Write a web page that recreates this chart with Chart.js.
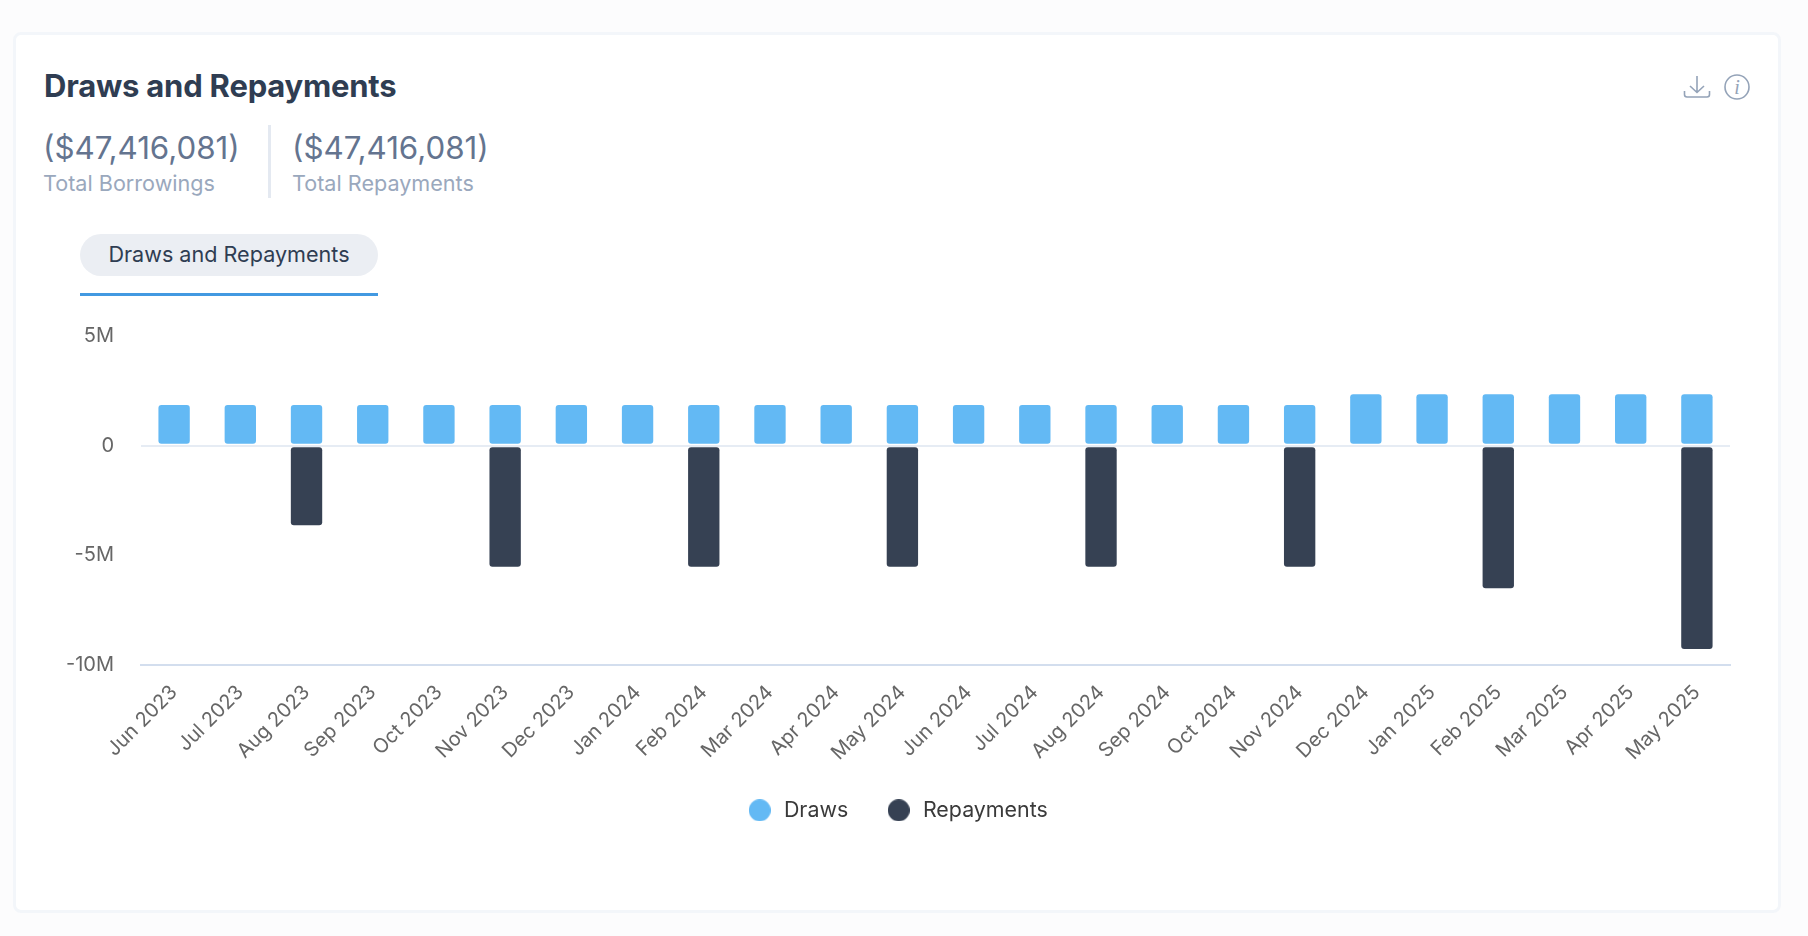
<!DOCTYPE html>
<html>
<head>
<meta charset="utf-8">
<script src="https://cdn.jsdelivr.net/npm/chart.js@4"></script>
<style>
  html, body { margin: 0; padding: 0; width: 1808px; height: 936px; overflow: hidden; background: #fcfcfd; font-family: Inter, sans-serif; }
  .card { position: absolute; left: 13px; top: 32px; width: 1762px; height: 875px; background: #fff; border: 3px solid #f3f6fa; border-radius: 8px; }
  .abs { position: absolute; white-space: nowrap; }
  #title { left: 44px; top: 66px; font-size: 31px; line-height: 39px; font-weight: 700; letter-spacing: -0.22px; color: #2f3d52; }
  .num { top: 129px; font-size: 31.3px; line-height: 38px; color: #64748f; }
  .sub { top: 169px; font-size: 21.6px; line-height: 28px; color: #9aa8bd; }
  #divider { left: 268px; top: 125px; width: 3px; height: 73px; background: #e4e9f1; }
  #pill { left: 80px; top: 234px; width: 298px; height: 42px; border-radius: 21px; background: #ebeef3; color: #2f3d52; font-size: 21.6px; line-height: 41px; text-align: center; }
  #tabline { left: 80px; top: 293px; width: 298px; height: 3px; background: #4299e1; }
  #info-i { left: 1726px; top: 74px; width: 22px; text-align: center; font: italic 20px/26px "Liberation Serif", serif; color: #94a3b8; }
  #chart-box { position: absolute; left: 60px; top: 297px; width: 1676px; height: 534px; }
</style>
</head>
<body>
<div class="card"></div>
<div class="abs" id="title">Draws and Repayments</div>
<div class="abs num" style="left:43px">($47,416,081)</div>
<div class="abs sub" style="left:43px">Total Borrowings</div>
<div class="abs" id="divider"></div>
<div class="abs num" style="left:292px">($47,416,081)</div>
<div class="abs sub" style="left:292px">Total Repayments</div>
<div class="abs" id="pill">Draws and Repayments</div>
<div class="abs" id="tabline"></div>
<svg class="abs" style="left:1680px;top:72px" width="34" height="28" viewBox="0 0 34 28" fill="none" stroke="#94a3b8" stroke-width="1.6">
  <path d="M17 4 V20 M10 14 L17 20.5 L24 14"/>
  <path d="M4.5 19 V22.5 Q4.5 25 7 25 H27 Q29.5 25 29.5 22.5 V19"/>
</svg>
<svg class="abs" style="left:1723px;top:73px" width="28" height="28" viewBox="0 0 28 28" fill="none" stroke="#94a3b8" stroke-width="1.6">
  <circle cx="14" cy="14" r="12"/>
</svg>
<div class="abs" id="info-i">i</div>
<div id="chart-box"><canvas id="mainChart"></canvas></div>

<script>
// chart data
const months = ['Jun 2023', 'Jul 2023', 'Aug 2023', 'Sep 2023', 'Oct 2023', 'Nov 2023', 'Dec 2023', 'Jan 2024',
    'Feb 2024', 'Mar 2024', 'Apr 2024', 'May 2024', 'Jun 2024', 'Jul 2024', 'Aug 2024', 'Sep 2024', 'Oct 2024',
    'Nov 2024', 'Dec 2024', 'Jan 2025', 'Feb 2025', 'Mar 2025', 'Apr 2025', 'May 2025'];
const draws = [1880000, 1880000, 1880000, 1880000, 1880000, 1880000, 1880000, 1880000, 1880000, 1880000, 1880000, 1880000,
    1880000, 1880000, 1880000, 1880000, 1880000, 1880000, 2370000, 2370000, 2370000, 2370000, 2370000, 2370000];
const repayments = [null, null, -3670000, null, null, -5560000, null, null, -5560000, null, null, -5560000,
    null, null, -5560000, null, null, -5560000, null, null, -6540000, null, null, -9320000];
const yTickLabels = { '5000000': '5M', '0': '0', '-5000000': '-5M', '-10000000': '-10M' };

const barStyle = {
    barThickness: 32.7,
    borderWidth: 1,
    borderColor: 'rgba(255,255,255,0)',
    borderRadius: 4,
    borderSkipped: false
};

// legend dots as small canvases, so the box can be wider than the circle
function makeDot(color) {
    const c = document.createElement('canvas');
    c.width = 22;
    c.height = 22;
    const g = c.getContext('2d');
    g.fillStyle = color;
    g.beginPath();
    g.arc(11, 11, 11, 0, Math.PI * 2);
    g.fill();
    return c;
}

new Chart(document.getElementById('mainChart').getContext('2d'), {
    type: 'bar',
    data: {
        labels: months,
        datasets: [
            { label: 'Draws', data: draws, backgroundColor: '#63b9f4', pointStyle: makeDot('#63b9f4'), ...barStyle },
            { label: 'Repayments', data: repayments, backgroundColor: '#364153', pointStyle: makeDot('#364153'), ...barStyle }
        ]
    },
    options: {
        responsive: true,
        maintainAspectRatio: false,
        animation: false,
        layout: { padding: { left: 4, right: 6 } },
        plugins: {
            tooltip: { enabled: false },
            legend: {
                position: 'bottom',
                labels: {
                    usePointStyle: true,
                    pointStyleWidth: 27,
                    boxHeight: 16,
                    padding: 37,
                    color: '#3a3a3a',
                    font: { family: 'Inter', size: 21.4 }
                }
            }
        },
        scales: {
            x: {
                stacked: true,
                grid: { display: false },
                border: { color: '#d3deee', width: 2 },
                ticks: {
                    color: '#666',
                    font: { family: 'Inter', size: 20 },
                    minRotation: 45,
                    maxRotation: 45,
                    autoSkip: false,
                    padding: 8
                },
                afterFit: scale => { scale.height = 98; }
            },
            y: {
                stacked: true,
                min: -10000000,
                max: 5000000,
                grid: {
                    drawTicks: false,
                    lineWidth: 2,
                    color: ctx => ctx.tick.value === 0 ? '#e6ecf4' : 'rgba(0,0,0,0)'
                },
                border: { display: false },
                ticks: {
                    stepSize: 5000000,
                    color: '#666',
                    font: { family: 'Inter', size: 20 },
                    padding: 27,
                    callback: v => yTickLabels[String(v)]
                },
                afterFit: scale => { scale.width = 77; }
            }
        }
    }
});
</script>
</body>
</html>
